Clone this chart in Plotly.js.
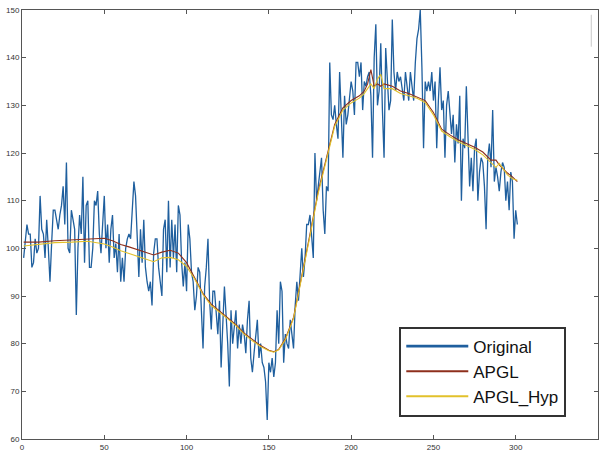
<!DOCTYPE html>
<html>
<head>
<meta charset="utf-8">
<script src="https://cdn.plot.ly/plotly-3.0.1.min.js"></script>
<style>html,body{margin:0;padding:0;background:#fff;}#chart{width:604px;height:451px;}</style>
</head>
<body>
<div id="chart"></div>
<script>
// Original noisy series, samples at x = 1..301
const originalValues = [
98,101,105,103,103,96,97,102,99,100,
111,104,103,98,106,100,93,101,108,108,
106,104,107,109,113,105,118,100,99,108,
106,104,86,100,107,103,115,97,109,110,
96,96,100,110,109,112,103,99,105,111,
100,105,97,104,107,98,101,95,103,93,
98,93,100,102,103,102,108,114,111,103,
94,104,97,106,96,93,91,93,88,99,
102,102,96,93,90,104,106,95,110,96,
106,98,105,95,109,107,97,92,97,91,
105,102,95,93,87,90,96,95,88,79,
92,96,102,89,83,91,91,86,82,89,
75,84,92,86,80,71,87,80,84,87,
79,84,80,84,82,78,85,89,77,74,
78,81,85,77,80,76,75,72,64,76,
74,77,73,76,87,80,93,91,76,82,
80,79,85,82,79,88,93,89,94,100,
94,98,105,105,107,102,98,120,110,113,
116,119,108,103,113,112,139,128,127,130,
126,123,137,129,119,132,126,128,131,135,
133,128,139,139,136,139,129,135,134,136,
137,132,119,140,147,130,133,143,129,119,
142,135,129,131,148,137,133,137,135,136,
133,131,137,134,131,137,134,131,139,144,
146,150,138,121,135,133,135,133,137,131,
135,121,131,138,129,131,119,130,133,129,
124,128,118,126,122,132,110,123,121,134,
121,113,119,112,121,123,110,116,119,118,
113,104,119,122,117,129,114,117,115,112,
116,118,117,110,114,108,116,114,102,108,
105
];
const originalX = originalValues.map((v, i) => i + 1);

// Smoothed reconstructions, sampled at these x positions
const smoothX = [1,10,20,30,40,50,55,60,65,70,75,80,85,90,95,100,105,110,115,120,125,130,135,140,145,150,153,156,160,165,170,175,180,185,190,195,200,205,208,210,212,214,216,218,220,225,230,235,240,245,250,255,260,265,270,275,280,285,288,290,295,298,301];
const apglValues = [101.3,101.3,101.6,101.8,102,102.1,101.6,100.8,100.3,99.8,99.2,98.6,99.2,99.6,99,97,93.8,90.5,88.3,86.8,85.4,84,82.2,80.8,79.6,78.6,78.3,78.8,81,85.5,94,103,112,119,126,129.5,131,132,133,134.5,137.5,134,134.5,134,134.5,134,133,132.5,131.8,131,128.5,125,123.8,122.8,122,121.2,120.2,118.5,118.5,117.5,115.8,115,114];
const apglHypValues = [100.5,100.8,101.2,101.3,101.5,100.9,100.3,99.5,98.9,98.3,97.8,97.2,98,98.1,97.6,96.2,93.5,90.3,88,86.5,85.2,83.8,82,80.6,79.4,78.5,78.2,78.7,80.8,85.3,93.8,102.6,111.6,118.6,125.6,129,130.5,131.5,132.5,133.5,134.5,133.5,135.5,136.5,133.5,133.5,132.5,132,131.5,130.6,128,124.6,123.4,122.4,121.6,120.8,119.6,118,117,117.8,115.4,114.6,114.3];

const seriesNames = ['Original', 'APGL', 'APGL_Hyp'];
const seriesColors = ['#1f5f9e', '#8e2f1c', '#e2c12b'];
const xTicks = [0,50,100,150,200,250,300,350];
const yTicks = [60,70,80,90,100,110,120,130,140,150];

const traces = [
  {x: originalX, y: originalValues, name: seriesNames[0], type: 'scatter', mode: 'lines',
   line: {color: seriesColors[0], width: 1.3}, showlegend: false},
  {x: smoothX, y: apglValues, name: seriesNames[1], type: 'scatter', mode: 'lines',
   line: {color: seriesColors[1], width: 1.1}, showlegend: false},
  {x: smoothX, y: apglHypValues, name: seriesNames[2], type: 'scatter', mode: 'lines',
   line: {color: seriesColors[2], width: 1.1}, showlegend: false}
];
// legend-only entries (thicker sample lines, as in the reference legend)
seriesNames.forEach((n, i) => {
  traces.push({x: [null], y: [null], name: n, type: 'scatter', mode: 'lines',
    line: {color: seriesColors[i], width: i === 0 ? 2.6 : 2}, showlegend: true});
});

const axisCommon = {
  showgrid: false, zeroline: false, showline: true, mirror: 'allticks',
  linecolor: '#555', linewidth: 1, ticks: 'inside', ticklen: 4, tickcolor: '#555',
  tickfont: {family: 'Liberation Sans, Arial, sans-serif', size: 8, color: '#333'}
};

const layout = {
  width: 604, height: 451,
  margin: {l: 22, r: 6, t: 10, b: 12},
  paper_bgcolor: '#fff', plot_bgcolor: '#fff',
  showlegend: true,
  xaxis: Object.assign({}, axisCommon, {range: [0, 350], tickvals: xTicks, ticktext: xTicks.map(String), ticklabelstandoff: 0}),
  yaxis: Object.assign({}, axisCommon, {range: [60, 150], tickvals: yTicks, ticktext: yTicks.map(String)}),
  legend: {
    x: 0.655, y: 0.262, xanchor: 'left', yanchor: 'top',
    bgcolor: '#fff', bordercolor: '#333', borderwidth: 2,
    font: {family: 'Liberation Sans, Arial, sans-serif', size: 17, color: '#111'},
    tracegroupgap: 0, itemwidth: 62
  },
  shapes: [
    {type: 'line', xref: 'x', yref: 'y', x0: 345.9, x1: 345.9, y0: 149, y1: 142.3,
     line: {color: '#c8c8c8', width: 1}}
  ]
};

Plotly.newPlot('chart', traces, layout, {staticPlot: true, displayModeBar: false});
</script>
</body>
</html>
